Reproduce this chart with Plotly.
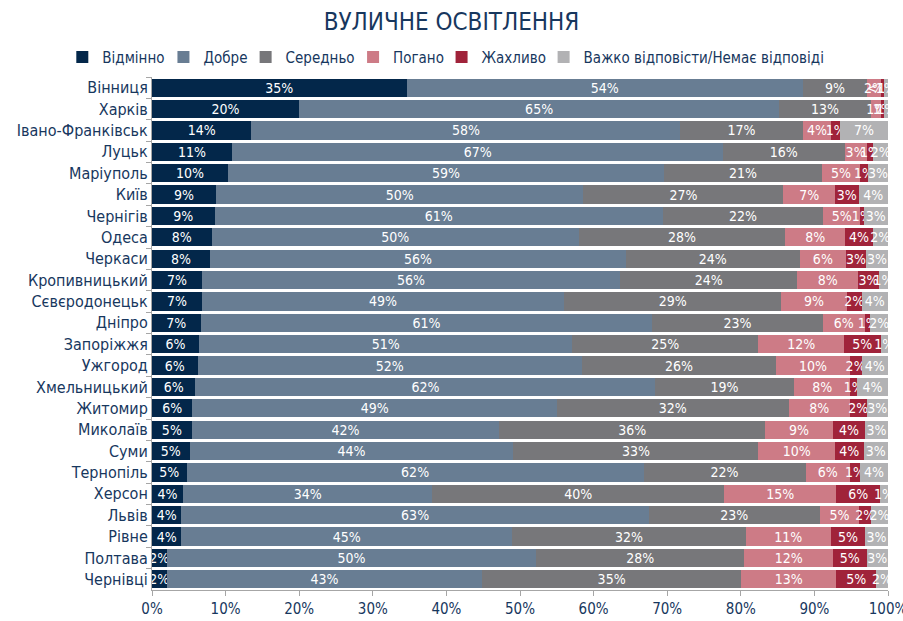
import plotly.graph_objects as go

cities = ["Вінниця", "Харків", "Івано-Франківськ", "Луцьк", "Маріуполь", "Київ", "Чернігів",
          "Одеса", "Черкаси", "Кропивницький", "Сєвєродонецьк", "Дніпро", "Запоріжжя", "Ужгород",
          "Хмельницький", "Житомир", "Миколаїв", "Суми", "Тернопіль", "Херсон", "Львів", "Рівне",
          "Полтава", "Чернівці"]

series_names = ["Відмінно", "Добре", "Середньо", "Погано", "Жахливо", "Важко відповісти/Немає відповіді"]

excellent = [34.6, 20.0, 13.5, 10.9, 10.3, 8.7, 8.5, 8.1, 7.9, 6.8, 6.8, 6.6, 6.4, 6.2, 5.9, 5.5, 5.4, 5.1, 4.7, 4.2, 4.0, 4.0, 2.0, 2.0]
good      = [53.8, 65.2, 58.3, 66.7, 59.3, 49.9, 60.9, 49.9, 56.5, 56.8, 49.2, 61.4, 50.7, 52.2, 62.5, 49.5, 41.8, 44.0, 62.1, 33.9, 63.5, 44.9, 50.2, 42.9]
medium    = [8.8, 12.5, 16.6, 16.5, 21.4, 27.2, 21.8, 28.0, 23.6, 24.1, 29.5, 23.1, 25.3, 26.4, 18.8, 31.5, 36.1, 33.3, 22.0, 39.6, 23.2, 31.8, 28.3, 35.1]
bad       = [1.8, 1.4, 3.9, 3.0, 5.2, 7.0, 5.0, 8.2, 6.3, 8.2, 8.9, 5.8, 11.6, 10.0, 7.7, 8.3, 9.2, 10.4, 6.0, 15.3, 5.4, 11.5, 12.0, 13.0]
awful     = [0.4, 0.4, 1.2, 0.9, 1.1, 3.2, 0.5, 3.7, 2.7, 2.9, 2.0, 0.7, 5.0, 1.6, 0.9, 2.3, 4.4, 3.9, 1.4, 5.9, 1.6, 4.7, 4.6, 5.4]
no_answer = [0.6, 0.5, 6.5, 2.0, 2.7, 4.0, 3.3, 2.1, 3.0, 1.2, 3.6, 2.4, 1.0, 3.6, 4.2, 2.9, 3.1, 3.3, 3.8, 1.1, 2.3, 3.1, 2.9, 1.6]

lbl_excellent = ["35%", "20%", "14%", "11%", "10%", "9%", "9%", "8%", "8%", "7%", "7%", "7%", "6%", "6%", "6%", "6%", "5%", "5%", "5%", "4%", "4%", "4%", "2%", "2%"]
lbl_good      = ["54%", "65%", "58%", "67%", "59%", "50%", "61%", "50%", "56%", "56%", "49%", "61%", "51%", "52%", "62%", "49%", "42%", "44%", "62%", "34%", "63%", "45%", "50%", "43%"]
lbl_medium    = ["9%", "13%", "17%", "16%", "21%", "27%", "22%", "28%", "24%", "24%", "29%", "23%", "25%", "26%", "19%", "32%", "36%", "33%", "22%", "40%", "23%", "32%", "28%", "35%"]
lbl_bad       = ["2%", "1%", "4%", "3%", "5%", "7%", "5%", "8%", "6%", "8%", "9%", "6%", "12%", "10%", "8%", "8%", "9%", "10%", "6%", "15%", "5%", "11%", "12%", "13%"]
lbl_awful     = ["<1%", "1%", "1%", "1%", "1%", "3%", "1%", "4%", "3%", "3%", "2%", "1%", "5%", "2%", "1%", "2%", "4%", "4%", "1%", "6%", "2%", "5%", "5%", "5%"]
lbl_no_answer = ["1%", "1%", "7%", "2%", "3%", "4%", "3%", "2%", "3%", "1%", "4%", "2%", "1%", "4%", "4%", "3%", "3%", "3%", "4%", "1%", "2%", "3%", "3%", "2%"]

x_ticks = [0, 10, 20, 30, 40, 50, 60, 70, 80, 90, 100]
x_tick_labels = ["0%", "10%", "20%", "30%", "40%", "50%", "60%", "70%", "80%", "90%", "100%"]

colors = ["#03274A", "#687D93", "#77777A", "#CD7B86", "#A0233A", "#B2B2B4"]
values = [excellent, good, medium, bad, awful, no_answer]
labels = [lbl_excellent, lbl_good, lbl_medium, lbl_bad, lbl_awful, lbl_no_answer]
legend_ids = ["legend", "legend2", "legend3", "legend4", "legend5", "legend6"]
legend_x = [0.069, 0.181, 0.272, 0.391, 0.489, 0.602]

FONT = "DejaVu Sans Condensed, Liberation Sans Narrow, sans-serif"
NAVY = "#17375E"

fig = go.Figure()
for name, vals, lbls, col, lg in zip(series_names, values, labels, colors, legend_ids):
    fig.add_trace(go.Bar(
        y=cities, x=vals, name=name, orientation="h",
        marker=dict(color=col, line=dict(width=0)),
        text=lbls, texttemplate="%{text}", textposition="inside",
        insidetextanchor="middle", textangle=0,
        textfont=dict(color="white", size=14, family=FONT),
        legend=lg,
    ))

legend_common = dict(orientation="h", xref="container", xanchor="left",
                     y=0.908, yref="container", yanchor="middle",
                     font=dict(size=15, color=NAVY, family=FONT),
                     itemwidth=30, bgcolor="rgba(0,0,0,0)")
legends = {lg: dict(x=lx, **legend_common) for lg, lx in zip(legend_ids, legend_x)}

fig.update_layout(
    barmode="stack",
    bargap=0.15,
    width=903, height=621,
    margin=dict(l=152, r=15, t=77, b=31),
    paper_bgcolor="white", plot_bgcolor="white",
    font=dict(family=FONT, color=NAVY, size=15),
    uniformtext=dict(minsize=14, mode="show"),
    title=dict(text="ВУЛИЧНЕ ОСВІТЛЕННЯ", x=0.5, xref="container", xanchor="center",
               y=0.965, yref="container", yanchor="middle",
               font=dict(size=24, color=NAVY, family=FONT)),
    showlegend=True,
    **legends,
)
fig.update_xaxes(range=[0, 100], tickvals=x_ticks, ticktext=x_tick_labels,
                 showgrid=False, zeroline=False, showline=True, linecolor="#A6A6A6",
                 ticks="outside", ticklen=5, tickcolor="#A6A6A6", automargin=False,
                 ticklabeloverflow="allow",
                 tickfont=dict(size=15, color=NAVY, family=FONT), fixedrange=True)
fig.update_yaxes(autorange="reversed", showgrid=False, showline=True, linecolor="#A6A6A6",
                 ticks="outside", tickson="boundaries", ticklen=5, tickcolor="#A6A6A6",
                 automargin=False,
                 tickfont=dict(size=16, color=NAVY, family=FONT))

fig.write_html("out.html", config={"displayModeBar": False},
               post_script="document.body.style.margin='0px';document.body.style.padding='0px';")
